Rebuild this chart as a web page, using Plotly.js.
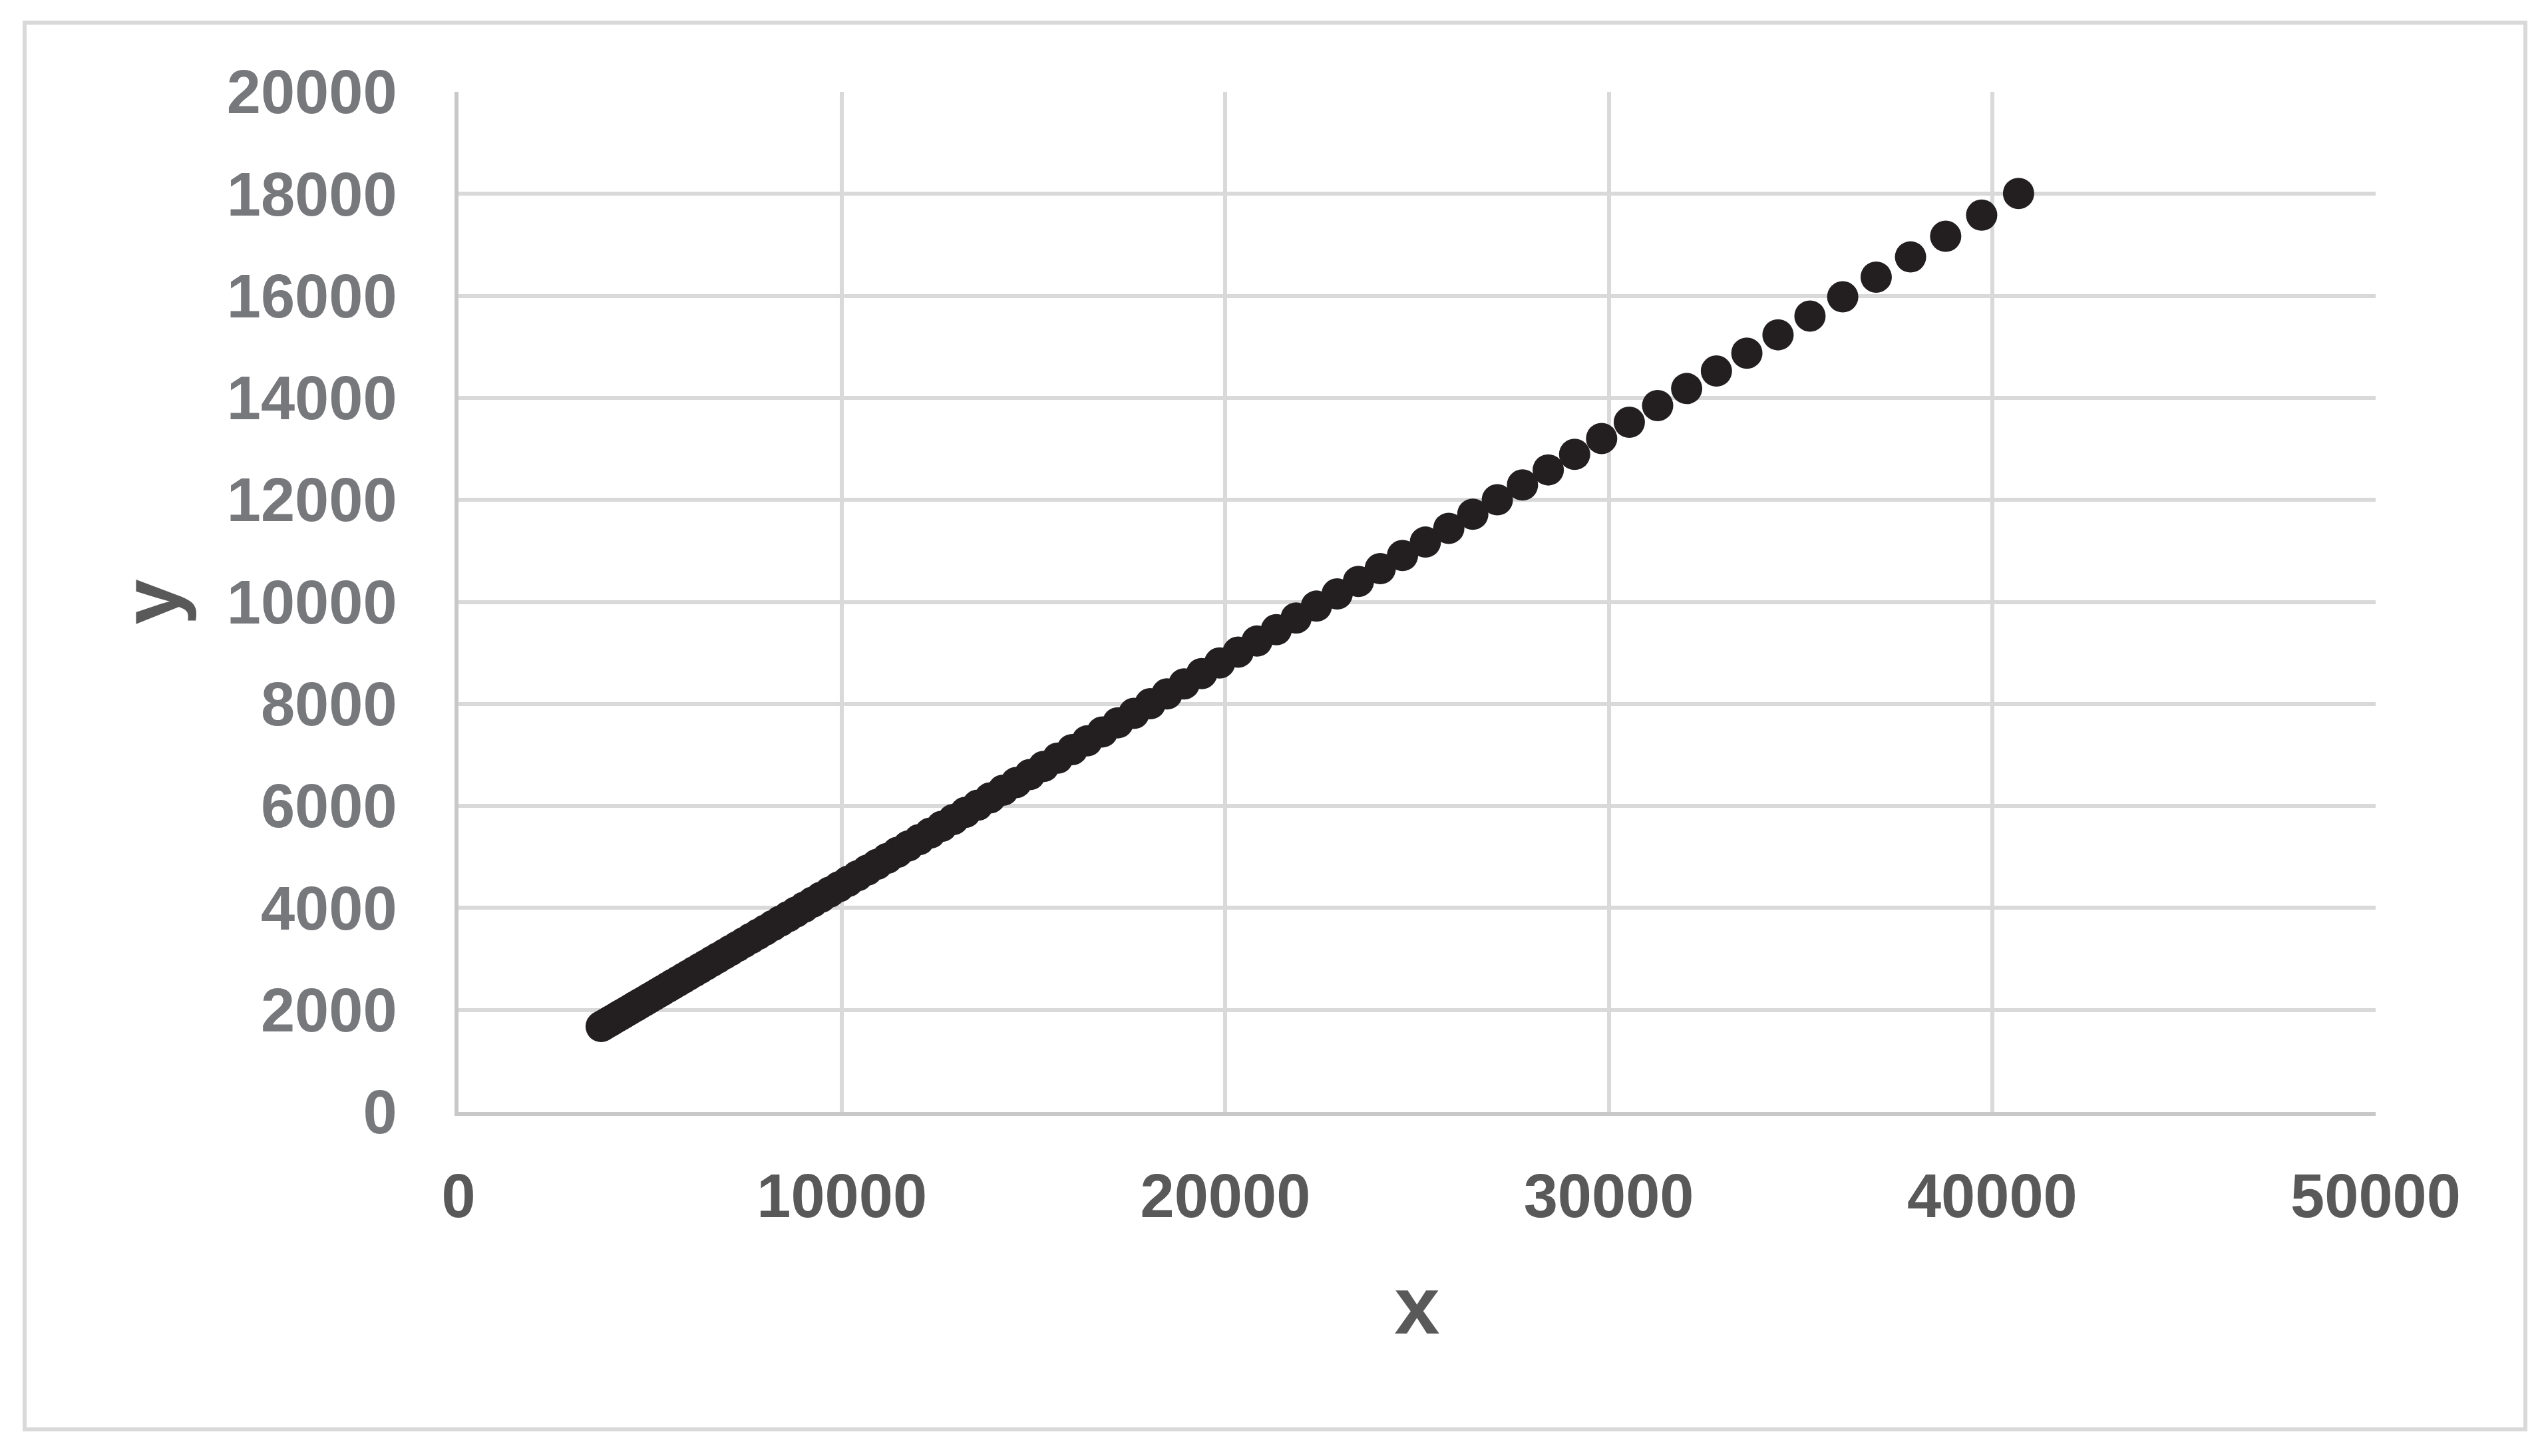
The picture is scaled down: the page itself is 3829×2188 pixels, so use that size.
<!DOCTYPE html>
<html>
<head>
<meta charset="utf-8">
<script src="https://cdn.plot.ly/plotly-3.0.1.min.js"></script>
<style>
  html, body { margin: 0; padding: 0; background: #ffffff; }
  #chart { width: 3829px; height: 2188px; }
</style>
</head>
<body>
<div id="chart"></div>
<script>
// Scatter points (x, y)
const xValues = [
  3721, 3811, 3903, 3998, 4095, 4194, 4295, 4399, 4506, 4615,
  4727, 4841, 4958, 5078, 5201, 5327, 5456, 5588, 5723, 5862,
  6004, 6149, 6298, 6450, 6607, 6766, 6930, 7098, 7270, 7446,
  7626, 7811, 8000, 8193, 8392, 8595, 8803, 9016, 9234, 9458,
  9687, 9921, 10161, 10407, 10659, 10917, 11182, 11452, 11730, 12013,
  12304, 12602, 12907, 13220, 13540, 13867, 14203, 14547, 14899, 15260,
  15629, 16007, 16395, 16792, 17198, 17615, 18041, 18478, 18925, 19383,
  19852, 20333, 20825, 21329, 21846, 22375, 22916, 23471, 24039, 24620,
  25217, 25827, 26453, 27093, 27749, 28421, 29109, 29813, 30535, 31274,
  32031, 32807, 33601, 34414, 35247, 36101, 36974, 37870, 38786, 39725,
  40687
];

const yValues = [
  1676, 1716, 1756, 1798, 1841, 1885, 1929, 1975, 2023, 2071,
  2120, 2171, 2222, 2275, 2330, 2385, 2442, 2501, 2560, 2622,
  2685, 2749, 2814, 2882, 2951, 3021, 3094, 3168, 3244, 3322,
  3401, 3483, 3566, 3652, 3740, 3829, 3921, 4015, 4112, 4211,
  4312, 4415, 4521, 4630, 4741, 4855, 4972, 5092, 5214, 5339,
  5468, 5600, 5734, 5873, 6014, 6158, 6307, 6459, 6614, 6774,
  6937, 7104, 7275, 7451, 7630, 7814, 8003, 8196, 8393, 8595,
  8803, 9015, 9232, 9455, 9684, 9917, 10156, 10402, 10652, 10909,
  11173, 11442, 11719, 12002, 12292, 12588, 12892, 13203, 13522, 13849,
  14183, 14526, 14877, 15236, 15604, 15981, 16367, 16763, 17168, 17583,
  18008
];

const xTicks = [0, 10000, 20000, 30000, 40000, 50000];
const yTicks = [0, 2000, 4000, 6000, 8000, 10000, 12000, 14000, 16000, 18000, 20000];

const W = 3829, H = 2188;
const PLOT = { left: 689, right: 3570, top: 138, bottom: 1671 };
const FRAME = { left: 37, right: 3795, top: 34, bottom: 2148 };

const FONT = 'Liberation Sans, Arial, sans-serif';
const GRID = '#d9d9d9';

// outer chart-area border, given in pixels and turned into paper units
const pw = PLOT.right - PLOT.left;
const ph = PLOT.bottom - PLOT.top;
const frameShape = {
  type: 'rect',
  xref: 'paper', yref: 'paper',
  x0: (FRAME.left - PLOT.left) / pw,
  x1: (FRAME.right - PLOT.left) / pw,
  y0: (PLOT.bottom - FRAME.bottom) / ph,
  y1: (PLOT.bottom - FRAME.top) / ph,
  line: { color: GRID, width: 6 },
  fillcolor: 'rgba(0,0,0,0)',
  layer: 'below',
};

const trace = {
  type: 'scatter',
  mode: 'markers',
  x: xValues,
  y: yValues,
  marker: { color: '#231f20', size: 47, line: { width: 0 } },
  hoverinfo: 'x+y',
};

const layout = {
  width: W,
  height: H,
  paper_bgcolor: '#ffffff',
  plot_bgcolor: '#ffffff',
  margin: { l: PLOT.left, r: W - PLOT.right, t: PLOT.top, b: H - PLOT.bottom, pad: 0 },
  showlegend: false,
  xaxis: {
    range: [0, 50000],
    tickvals: xTicks,
    ticktext: xTicks.map(String),
    showgrid: true,
    gridcolor: GRID,
    gridwidth: 6,
    zeroline: false,
    showline: true,
    linecolor: '#c8c8c8',
    linewidth: 6,
    ticks: '',
    ticklabelstandoff: 42,
    tickfont: { family: FONT, size: 92, color: '#595959', weight: 'bold' },
    title: {
      text: 'x',
      standoff: 73,
      font: { family: FONT, size: 123, color: '#595959', weight: 'bold' },
    },
  },
  yaxis: {
    range: [0, 20000],
    tickvals: yTicks,
    ticktext: yTicks.map(String),
    showgrid: true,
    gridcolor: GRID,
    gridwidth: 6,
    zeroline: false,
    showline: true,
    linecolor: '#c8c8c8',
    linewidth: 6,
    ticks: '',
    ticklabelstandoff: 68,
    tickfont: { family: FONT, size: 92, color: '#77787b', weight: 'bold' },
    title: {
      text: 'y',
      standoff: 31,
      font: { family: FONT, size: 123, color: '#595959', weight: 'bold' },
    },
  },
  shapes: [frameShape],
};

Plotly.newPlot('chart', [trace], layout, { displayModeBar: false, staticPlot: true });
</script>
</body>
</html>
